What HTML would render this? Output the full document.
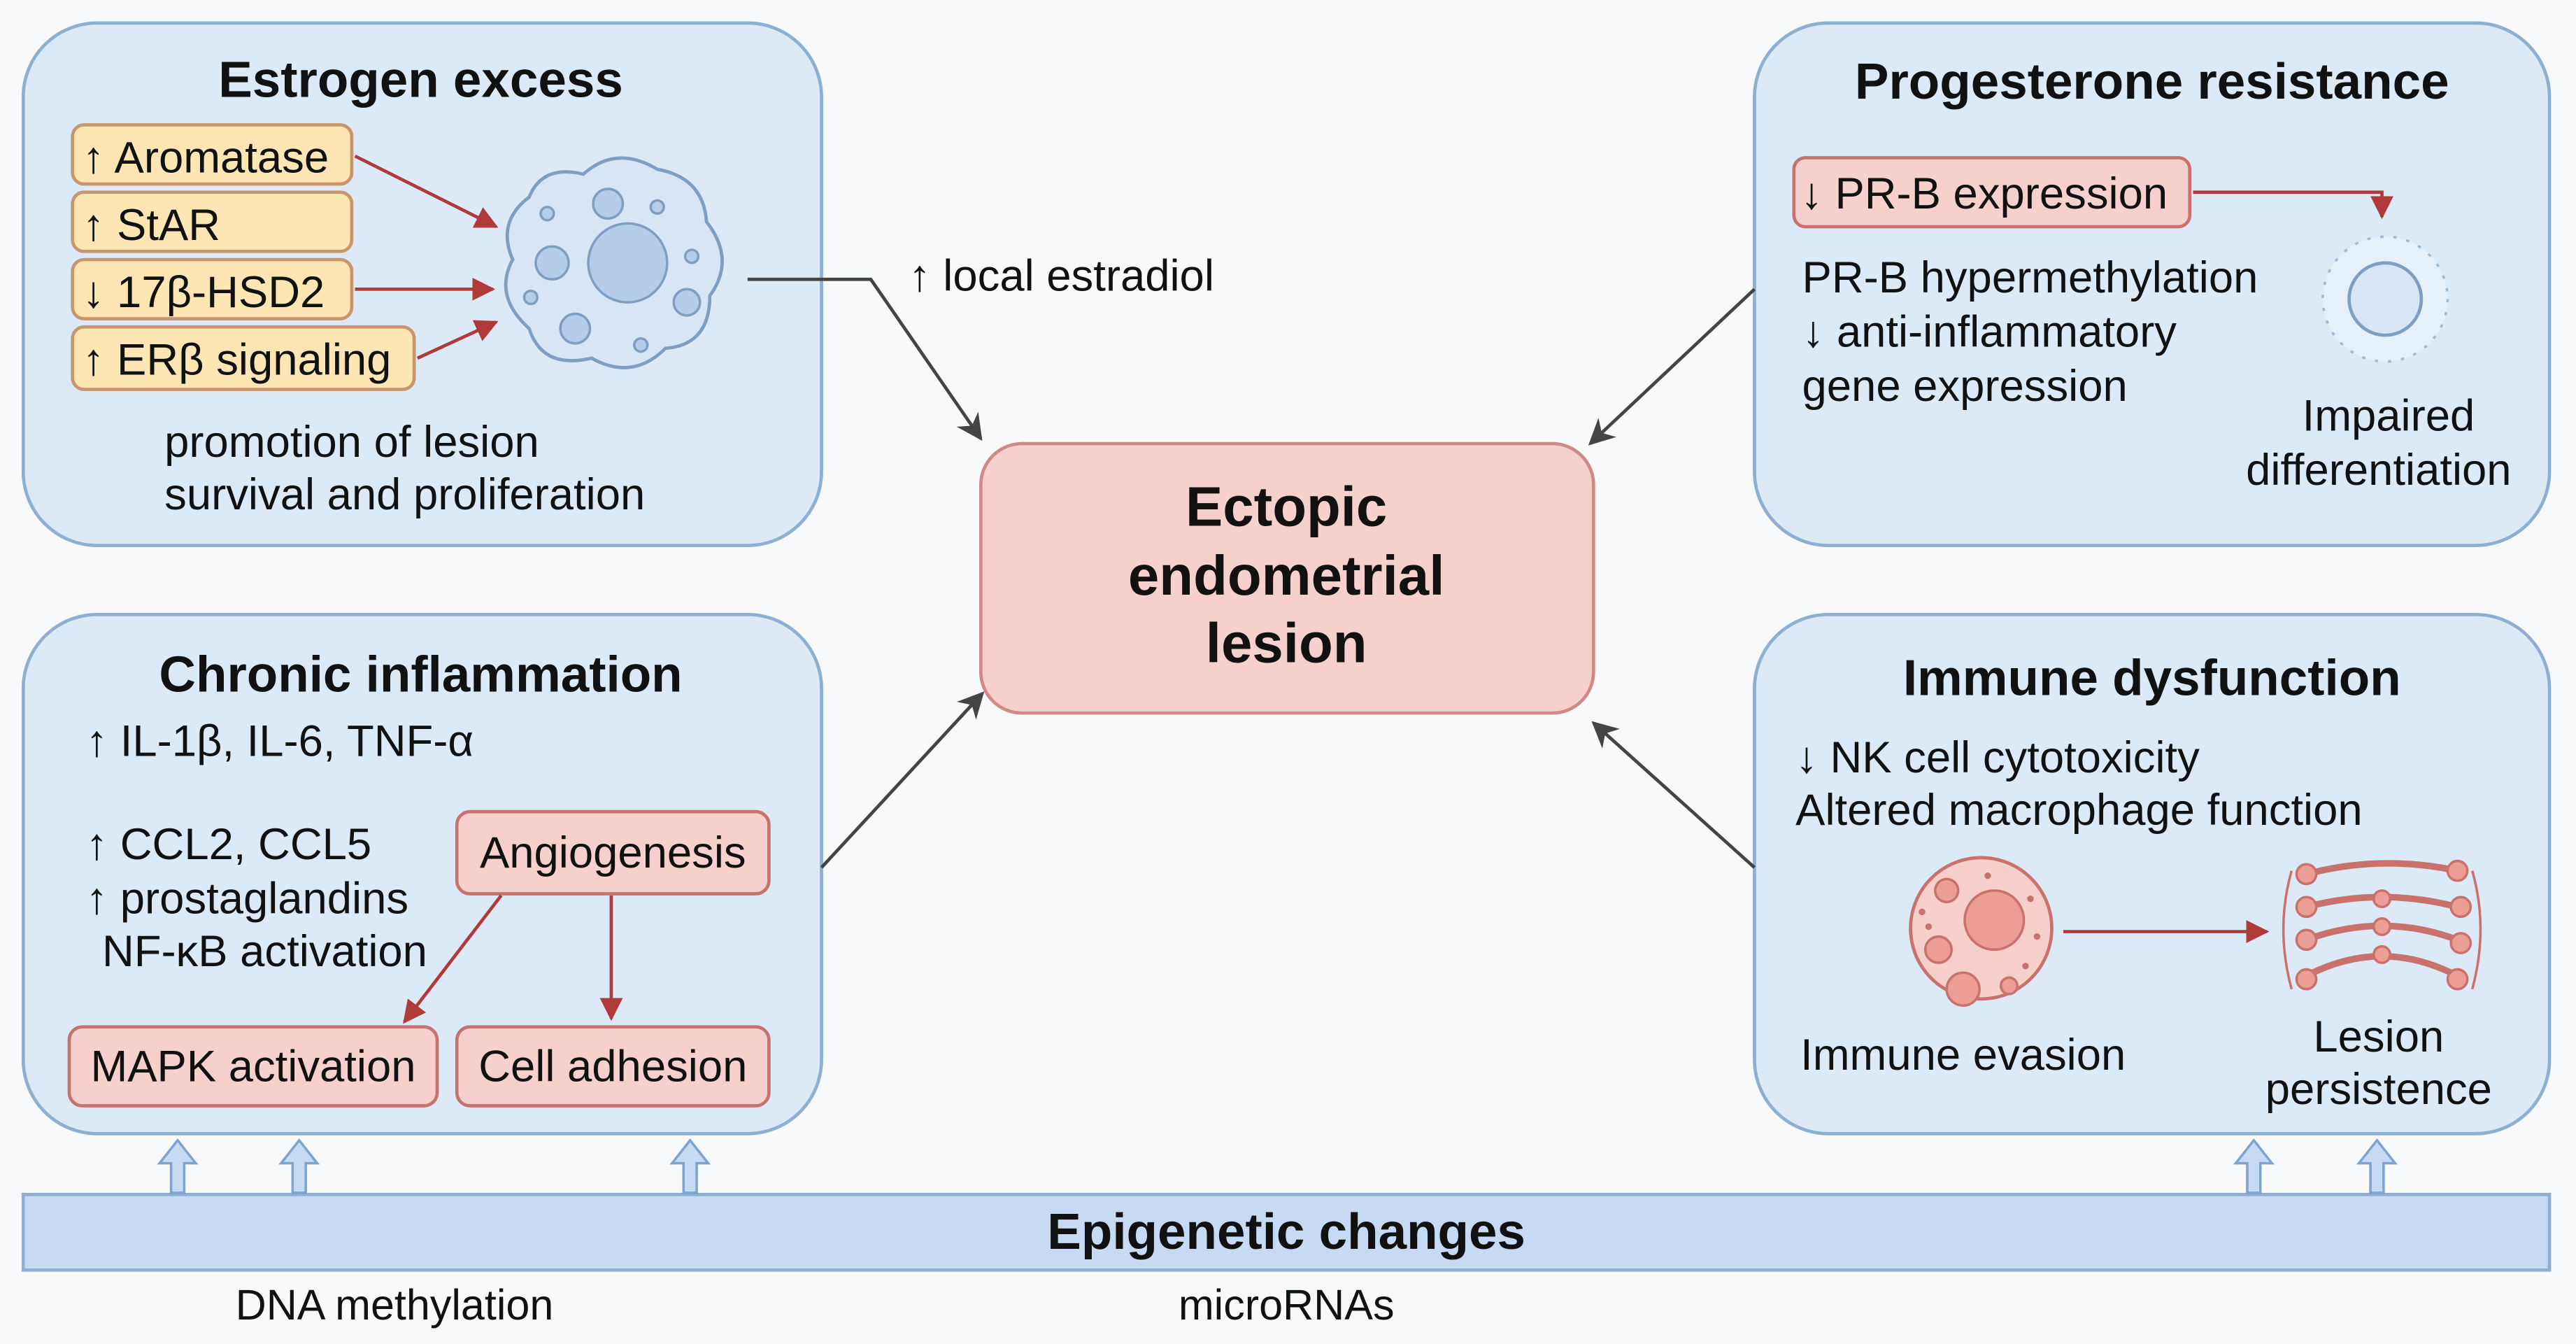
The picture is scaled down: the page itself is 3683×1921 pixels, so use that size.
<!DOCTYPE html>
<html><head><meta charset="utf-8"><style>
html,body{margin:0;padding:0;background:#f8f9fb;}
svg{display:block;}
text{font-family:"Liberation Sans",Arial,sans-serif;fill:#111;}
.t{font-weight:bold;font-size:31px;}
.b{font-size:27px;}
</style></head><body>
<svg width="3683" height="1921" viewBox="0 0 1568 818" xmlns="http://www.w3.org/2000/svg">
<defs>
<marker id="ar" viewBox="0 0 10 10" refX="9" refY="5" markerWidth="7" markerHeight="7" orient="auto"><path d="M0,0 L10,5 L0,10 z" fill="#b03a3a"/></marker>
<marker id="ag" viewBox="0 0 10 10" refX="9" refY="5" markerWidth="8" markerHeight="8" orient="auto"><path d="M0,0 L10,5 L0,10 L3,5 z" fill="#444"/></marker>
</defs>
<rect width="1568" height="818" fill="#f8f9fb"/>

<!-- Estrogen box -->
<rect x="14" y="14" width="486" height="318" rx="45" fill="#dceaf8" stroke="#8cafd2" stroke-width="2"/>
<text class="t" x="256" y="59" text-anchor="middle">Estrogen excess</text>
<g fill="#fde6b3" stroke="#c7966e" stroke-width="2">
<rect x="44" y="76" width="170" height="36" rx="7"/>
<rect x="44" y="117" width="170" height="36" rx="7"/>
<rect x="44" y="158" width="170" height="36" rx="7"/>
<rect x="44" y="199" width="208" height="38" rx="7"/>
</g>
<text class="b" x="50" y="105">↑ Aromatase</text>
<text class="b" x="50" y="146">↑ StAR</text>
<text class="b" x="50" y="187">↓ 17β-HSD2</text>
<text class="b" x="50" y="228">↑ ERβ signaling</text>
<g stroke="#b03a3a" stroke-width="2" fill="none" marker-end="url(#ar)">
<line x1="216" y1="95" x2="302" y2="138"/>
<line x1="216" y1="176" x2="300" y2="176"/>
<line x1="254" y1="218" x2="302" y2="196"/>
</g>
<path d="M322,120 Q330,100 355,106 Q375,88 400,103 Q428,108 430,135 Q448,158 432,180 Q432,210 405,212 Q385,232 360,218 Q330,225 322,200 Q300,180 312,158 Q302,135 322,120 Z" fill="#d6e6f7" stroke="#7e9fc2" stroke-width="2"/>
<g fill="#b5cde8" stroke="#7e9fc2" stroke-width="1.5">
<circle cx="382" cy="160" r="24"/><circle cx="336" cy="160" r="10"/><circle cx="370" cy="124" r="9"/>
<circle cx="350" cy="200" r="9"/><circle cx="418" cy="184" r="8"/>
<circle cx="333" cy="130" r="4"/><circle cx="400" cy="126" r="4"/><circle cx="421" cy="156" r="4"/>
<circle cx="323" cy="181" r="4"/><circle cx="390" cy="210" r="4"/>
</g>
<path d="M455,170 L530,170 L597,267" stroke="#444" stroke-width="2" fill="none" marker-end="url(#ag)"/>
<text class="b" x="553" y="177">↑ local estradiol</text>
<text class="b" x="100" y="278">promotion of lesion</text>
<text class="b" x="100" y="310">survival and proliferation</text>

<!-- Central -->
<rect x="597" y="270" width="373" height="164" rx="25" fill="#f6d0cd" stroke="#cf8a86" stroke-width="2"/>
<text class="t" x="783" y="320" text-anchor="middle" style="font-size:34px">Ectopic</text>
<text class="t" x="783" y="362" text-anchor="middle" style="font-size:34px">endometrial</text>
<text class="t" x="783" y="403" text-anchor="middle" style="font-size:34px">lesion</text>

<!-- Progesterone -->
<rect x="1068" y="14" width="484" height="318" rx="45" fill="#dceaf8" stroke="#8cafd2" stroke-width="2"/>
<text class="t" x="1310" y="60" text-anchor="middle">Progesterone resistance</text>
<rect x="1092" y="96" width="241" height="42" rx="7" fill="#f6d0cd" stroke="#c7726c" stroke-width="2"/>
<text class="b" x="1096" y="127">↓ PR-B expression</text>
<path d="M1335,117 L1450,117 L1450,132" stroke="#b03a3a" stroke-width="2" fill="none" marker-end="url(#ar)"/>
<circle cx="1452" cy="182" r="38" fill="#e6f0fa" stroke="#9fb9d6" stroke-width="1.5" stroke-dasharray="2 6"/>
<circle cx="1452" cy="182" r="22" fill="#d6e6f7" stroke="#7e9fc2" stroke-width="2"/>
<text class="b" x="1097" y="178">PR-B hypermethylation</text>
<text class="b" x="1097" y="211">↓ anti-inflammatory</text>
<text class="b" x="1097" y="244">gene expression</text>
<text class="b" x="1454" y="262" text-anchor="middle">Impaired</text>
<text class="b" x="1448" y="295" text-anchor="middle">differentiation</text>
<line x1="1068" y1="176" x2="968" y2="270" stroke="#444" stroke-width="2" marker-end="url(#ag)"/>

<!-- Chronic inflammation -->
<rect x="14" y="374" width="486" height="316" rx="45" fill="#dceaf8" stroke="#8cafd2" stroke-width="2"/>
<text class="t" x="256" y="421" text-anchor="middle">Chronic inflammation</text>
<text class="b" x="52" y="460">↑ IL-1β, IL-6, TNF-α</text>
<text class="b" x="52" y="523">↑ CCL2, CCL5</text>
<text class="b" x="52" y="556">↑ prostaglandins</text>
<text class="b" x="62" y="588">NF-κB activation</text>
<g fill="#f6d0cd" stroke="#c7726c" stroke-width="2">
<rect x="278" y="494" width="190" height="50" rx="8"/>
<rect x="42" y="625" width="224" height="48" rx="8"/>
<rect x="278" y="625" width="190" height="48" rx="8"/>
</g>
<text class="b" x="373" y="528" text-anchor="middle">Angiogenesis</text>
<text class="b" x="154" y="658" text-anchor="middle">MAPK activation</text>
<text class="b" x="373" y="658" text-anchor="middle">Cell adhesion</text>
<g stroke="#b03a3a" stroke-width="2" fill="none" marker-end="url(#ar)">
<line x1="305" y1="545" x2="246" y2="622"/>
<line x1="372" y1="545" x2="372" y2="620"/>
</g>
<line x1="500" y1="528" x2="598" y2="422" stroke="#444" stroke-width="2" marker-end="url(#ag)"/>

<!-- Immune -->
<rect x="1068" y="374" width="484" height="316" rx="45" fill="#dceaf8" stroke="#8cafd2" stroke-width="2"/>
<text class="t" x="1310" y="423" text-anchor="middle">Immune dysfunction</text>
<text class="b" x="1093" y="470">↓ NK cell cytotoxicity</text>
<text class="b" x="1093" y="502">Altered macrophage function</text>
<circle cx="1206" cy="565" r="43" fill="#f6cfcb" stroke="#c9726c" stroke-width="2"/>
<g fill="#ec9d95" stroke="#c9726c" stroke-width="1.5">
<circle cx="1214" cy="560" r="18"/><circle cx="1180" cy="578" r="8"/><circle cx="1195" cy="602" r="10"/>
<circle cx="1185" cy="542" r="7"/><circle cx="1223" cy="600" r="5"/>
</g>
<g fill="#c9726c"><circle cx="1170" cy="555" r="2"/><circle cx="1210" cy="533" r="2"/><circle cx="1236" cy="547" r="2"/><circle cx="1240" cy="570" r="2"/><circle cx="1233" cy="588" r="2"/><circle cx="1174" cy="564" r="2"/></g>
<line x1="1256" y1="567" x2="1380" y2="567" stroke="#b03a3a" stroke-width="2" marker-end="url(#ar)"/>
<g stroke="#c9726c" stroke-width="4" fill="none" stroke-linecap="round">
<path d="M1404,532 Q1450,520 1496,530"/>
<path d="M1404,552 Q1450,540 1496,552"/>
<path d="M1404,572 Q1450,555 1496,572"/>
<path d="M1404,594 Q1450,570 1496,594"/>
</g>
<g stroke="#c9726c" stroke-width="1.5" fill="none">
<path d="M1395,530 Q1385,565 1395,602"/><path d="M1505,530 Q1515,565 1505,602"/>
</g>
<g fill="#ec9d95" stroke="#c9726c" stroke-width="1.5">
<circle cx="1404" cy="532" r="6"/><circle cx="1404" cy="552" r="6"/><circle cx="1404" cy="572" r="6"/><circle cx="1404" cy="596" r="6"/>
<circle cx="1496" cy="530" r="6"/><circle cx="1498" cy="552" r="6"/><circle cx="1498" cy="574" r="6"/><circle cx="1496" cy="596" r="6"/>
<circle cx="1450" cy="547" r="5"/><circle cx="1450" cy="564" r="5"/><circle cx="1450" cy="581" r="5"/>
</g>
<text class="b" x="1195" y="651" text-anchor="middle">Immune evasion</text>
<text class="b" x="1448" y="640" text-anchor="middle">Lesion</text>
<text class="b" x="1448" y="672" text-anchor="middle">persistence</text>
<line x1="1068" y1="528" x2="970" y2="440" stroke="#444" stroke-width="2" marker-end="url(#ag)"/>

<!-- Epigenetic bar -->
<rect x="14" y="727" width="1538" height="46" fill="#c6dbf3" stroke="#8cafd2" stroke-width="2"/>
<text class="t" x="783" y="760" text-anchor="middle">Epigenetic changes</text>
<g fill="#c6dbf3" stroke="#7ea3cc" stroke-width="1.5">
<path d="M104,726 L104,708 L97,708 L108,694 L119,708 L112,708 L112,726 Z"/>
<path d="M178,726 L178,708 L171,708 L182,694 L193,708 L186,708 L186,726 Z"/>
<path d="M416,726 L416,708 L409,708 L420,694 L431,708 L424,708 L424,726 Z"/>
<path d="M1368,726 L1368,708 L1361,708 L1372,694 L1383,708 L1376,708 L1376,726 Z"/>
<path d="M1443,726 L1443,708 L1436,708 L1447,694 L1458,708 L1451,708 L1451,726 Z"/>
</g>
<text x="240" y="803" text-anchor="middle" style="font-size:26px">DNA methylation</text>
<text x="783" y="803" text-anchor="middle" style="font-size:26px">microRNAs</text>
</svg>
</body></html>
